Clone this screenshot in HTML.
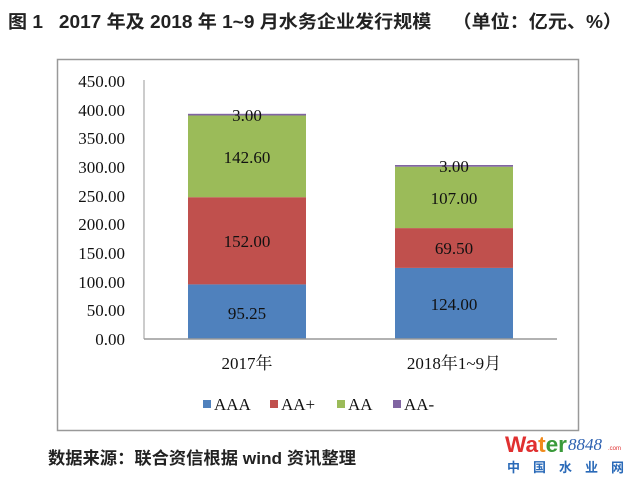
<!DOCTYPE html>
<html><head><meta charset="utf-8"><style>
body{margin:0;background:#fff;width:634px;height:481px;overflow:hidden}
</style></head><body>
<svg width="634" height="481" xmlns="http://www.w3.org/2000/svg">
<text x="8" y="28" font-family="Liberation Sans, Noto Sans CJK SC, sans-serif" font-size="18" font-weight="bold" fill="#222" textLength="614" lengthAdjust="spacingAndGlyphs">图 1 &#160; 2017 年及 2018 年 1~9 月水务企业发行规模 &#160; &#160;（单位：亿元、%）</text>
<rect x="57.5" y="59.5" width="521" height="371" fill="#fff" stroke="#999" stroke-width="1.5"/>
<g font-family="Liberation Serif, serif" font-size="17" fill="#111" text-anchor="end">
<text x="125" y="345">0.00</text><text x="125" y="316">50.00</text><text x="125" y="288">100.00</text>
<text x="125" y="259">150.00</text><text x="125" y="230">200.00</text><text x="125" y="202">250.00</text>
<text x="125" y="173">300.00</text><text x="125" y="144">350.00</text><text x="125" y="116">400.00</text>
<text x="125" y="87">450.00</text>
</g>
<line x1="144" y1="80" x2="144" y2="339" stroke="#999" stroke-width="1"/>
<rect x="188" y="284.4" width="118" height="54.6" fill="#4f81bd"/>
<rect x="188" y="197.2" width="118" height="87.2" fill="#c0504d"/>
<rect x="188" y="115.5" width="118" height="81.7" fill="#9bbb59"/>
<rect x="188" y="113.8" width="118" height="1.7" fill="#8064a2"/>
<rect x="395" y="267.9" width="118" height="71.1" fill="#4f81bd"/>
<rect x="395" y="228.1" width="118" height="39.8" fill="#c0504d"/>
<rect x="395" y="166.7" width="118" height="61.4" fill="#9bbb59"/>
<rect x="395" y="165" width="118" height="1.7" fill="#8064a2"/>
<line x1="144" y1="339" x2="557" y2="339" stroke="#999" stroke-width="1.5"/>
<g font-family="Liberation Serif, serif" font-size="17" fill="#111" text-anchor="middle">
<text x="247" y="319">95.25</text><text x="247" y="247">152.00</text><text x="247" y="163">142.60</text><text x="247" y="121">3.00</text>
<text x="454" y="310">124.00</text><text x="454" y="254">69.50</text><text x="454" y="204">107.00</text><text x="454" y="172">3.00</text>
</g>
<g font-family="Liberation Serif, Noto Serif CJK SC, serif" font-size="17" fill="#111" text-anchor="middle">
<text x="247" y="369">2017年</text><text x="454" y="369">2018年1~9月</text>
</g>
<g font-family="Liberation Serif, serif" font-size="17" fill="#111">
<rect x="203" y="400" width="8" height="8" fill="#4f81bd"/><text x="214" y="410">AAA</text>
<rect x="270" y="400" width="8" height="8" fill="#c0504d"/><text x="281" y="410">AA+</text>
<rect x="337" y="400" width="8" height="8" fill="#9bbb59"/><text x="348" y="410">AA</text>
<rect x="393" y="400" width="8" height="8" fill="#8064a2"/><text x="404" y="410">AA-</text>
</g>
<text x="48" y="464" font-family="Liberation Sans, Noto Sans CJK SC, sans-serif" font-size="17" font-weight="bold" fill="#222" textLength="308" lengthAdjust="spacingAndGlyphs">数据来源：联合资信根据 wind 资讯整理</text>
<text x="505" y="452" font-family="Liberation Sans, sans-serif" font-size="22" font-weight="bold" fill="#e03030" textLength="62" lengthAdjust="spacingAndGlyphs">Wa<tspan fill="#f08a1c">t</tspan><tspan fill="#3a9a3a">er</tspan></text>
<text x="568" y="450" font-family="Liberation Serif, serif" font-size="17" font-style="italic" fill="#2a5fb0">8848</text>
<text x="608" y="450" font-family="Liberation Sans, sans-serif" font-size="6" fill="#e03030">.com</text>
<text x="507" y="472" font-family="Noto Sans CJK SC, sans-serif" font-size="13" font-weight="bold" fill="#2a6ab8" letter-spacing="13">中国水业网</text>
</svg>
</body></html>
